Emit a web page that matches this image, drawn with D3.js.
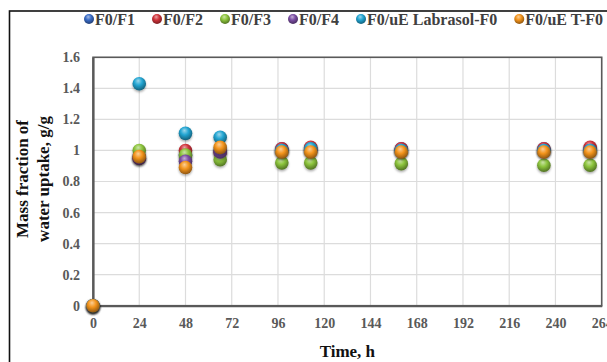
<!DOCTYPE html>
<html><head><meta charset="utf-8">
<script src="https://cdn.jsdelivr.net/npm/d3@7/dist/d3.min.js"></script>
<style>html,body{margin:0;padding:0;background:#fff;overflow:hidden}svg{display:block}</style>
</head><body>
<svg id="c" width="607" height="362"></svg>
<script>
const time = [0, 24, 48, 66, 98, 113, 160, 234, 258];
const seriesNames = ["F0/F1", "F0/F2", "F0/F3", "F0/F4", "F0/uE Labrasol-F0", "F0/uE T-F0"];
const F1 = [0, 0.96, 0.97, 1.00, 1.01, 1.01, 1.01, 1.01, 1.01];
const F2 = [0, 0.95, 1.00, 0.99, 1.01, 1.02, 1.01, 1.01, 1.02];
const F3 = [0, 1.00, 0.97, 0.94, 0.92, 0.92, 0.915, 0.905, 0.905];
const F4 = [0, 0.95, 0.93, 0.99, 1.00, 1.00, 1.00, 1.00, 1.00];
const Labrasol = [0, 1.43, 1.11, 1.085, 1.00, 1.01, 1.00, 1.00, 1.00];
const TF0 = [0, 0.96, 0.89, 1.02, 0.99, 0.99, 0.99, 0.99, 0.99];
const seriesValues = [F1, F2, F3, F4, Labrasol, TF0];
const colors = ["#3a6cc6", "#d0333a", "#8cc43c", "#7b4ea3", "#22a5d2", "#f3941c"];
const xTicks = [0, 24, 48, 72, 96, 120, 144, 168, 192, 216, 240, 264];
const yTicks = [0, 0.2, 0.4, 0.6, 0.8, 1, 1.2, 1.4, 1.6];

const svg = d3.select("#c");
const defs = svg.append("defs");
colors.forEach((c, i) => {
  const g = defs.append("radialGradient").attr("id", "g" + i)
    .attr("cx", "45%").attr("cy", "38%").attr("r", "65%").attr("fx", "42%").attr("fy", "28%");
  g.append("stop").attr("offset", "0%").attr("stop-color", d3.interpolateRgb(c, "#fff")(0.55));
  g.append("stop").attr("offset", "45%").attr("stop-color", c);
  g.append("stop").attr("offset", "100%").attr("stop-color", d3.interpolateRgb(c, "#000")(0.45));
});
const f = defs.append("filter").attr("id", "sh").attr("x", "-50%").attr("y", "-50%").attr("width", "200%").attr("height", "220%");
f.append("feDropShadow").attr("dx", 0).attr("dy", 1.5).attr("stdDeviation", 1.2).attr("flood-color", "#000").attr("flood-opacity", 0.35);

// outer frame
svg.append("rect").attr("x", 9.5).attr("y", 11).attr("width", 620).attr("height", 400)
  .attr("fill", "none").attr("stroke", "#111").attr("stroke-width", 1.6);

const L = 93, R = 601.7, T = 57.3, B = 305.7;
const x = d3.scaleLinear().domain([0, 264]).range([L, R]);
const y = d3.scaleLinear().domain([0, 1.6]).range([B, T]);

// grid
svg.append("g").selectAll("line").data(xTicks).join("line")
  .attr("x1", d => x(d)).attr("x2", d => x(d)).attr("y1", T).attr("y2", B)
  .attr("stroke", "#dcdcdc").attr("stroke-width", 1.2);
svg.append("g").selectAll("line").data(yTicks).join("line")
  .attr("x1", L).attr("x2", R).attr("y1", d => y(d)).attr("y2", d => y(d))
  .attr("stroke", "#dcdcdc").attr("stroke-width", 1.2);

// plot border
svg.append("rect").attr("x", L).attr("y", T).attr("width", R - L).attr("height", B - T)
  .attr("fill", "none").attr("stroke", "#5a5a5a").attr("stroke-width", 1.6);

// axes
const tickFont = "'Liberation Serif', 'Times New Roman', serif";
const xAxis = svg.append("g").attr("transform", `translate(0,${B})`)
  .call(d3.axisBottom(x).tickValues(xTicks).tickSize(0).tickPadding(12).tickFormat(d3.format("d")));
xAxis.select(".domain").attr("stroke", "#595959").attr("stroke-width", 2.2);
xAxis.selectAll("text").attr("font-family", tickFont).attr("font-weight", "bold")
  .attr("font-size", "14px").attr("fill", "#595959");
const yAxis = svg.append("g").attr("transform", `translate(${L},0)`)
  .call(d3.axisLeft(y).tickValues(yTicks).tickSize(0).tickPadding(13).tickFormat(d => d3.format("")(+d.toFixed(1))));
yAxis.select(".domain").attr("stroke", "#595959").attr("stroke-width", 2.2);
yAxis.selectAll("text").attr("font-family", tickFont).attr("font-weight", "bold")
  .attr("font-size", "14px").attr("fill", "#595959");

// axis titles
const titleFont = "'Liberation Serif', 'Times New Roman', serif";
svg.append("text").attr("x", (L + R) / 2).attr("y", 357).attr("text-anchor", "middle")
  .attr("font-family", titleFont).attr("font-weight", "bold").attr("font-size", "17px").attr("fill", "#111")
  .text("Time, h");
const yt = svg.append("text").attr("transform", "translate(0,179) rotate(-90)")
  .attr("text-anchor", "middle").attr("font-family", titleFont).attr("font-weight", "bold")
  .attr("font-size", "17px").attr("fill", "#111");
yt.append("tspan").attr("x", 0).attr("y", 28).text("Mass fraction of");
yt.append("tspan").attr("x", 0).attr("y", 49).text("water uptake, g/g");

// points
seriesValues.forEach((vals, i) => {
  svg.append("g").selectAll("circle").data(vals.map((v, j) => ({t: time[j], v})))
    .join("circle").attr("cx", d => x(d.t)).attr("cy", d => y(d.v)).attr("r", 6.8)
    .attr("fill", `url(#g${i})`).attr("filter", "url(#sh)");
});

// legend
const lg = svg.append("g");
const items = lg.selectAll("g").data(seriesNames).join("g");
items.append("circle").attr("r", 5).attr("cy", 0).attr("fill", (d, i) => `url(#g${i})`);
items.append("text").attr("x", 6).attr("dy", "0.35em").attr("font-family", titleFont)
  .attr("font-weight", "bold").attr("font-size", "16px").attr("fill", "#404040").text(d => d);
const widths = [];
items.each(function() { widths.push(d3.select(this).select("text").node().getComputedTextLength()); });
const gap = 17;
let pos = [], cx = 0;
widths.forEach((w, i) => { pos.push(cx); cx += 6 + w + gap + 5; });
const shift = 89;
items.attr("transform", (d, i) => `translate(${pos[i] + shift},19)`);
</script>
</body></html>
